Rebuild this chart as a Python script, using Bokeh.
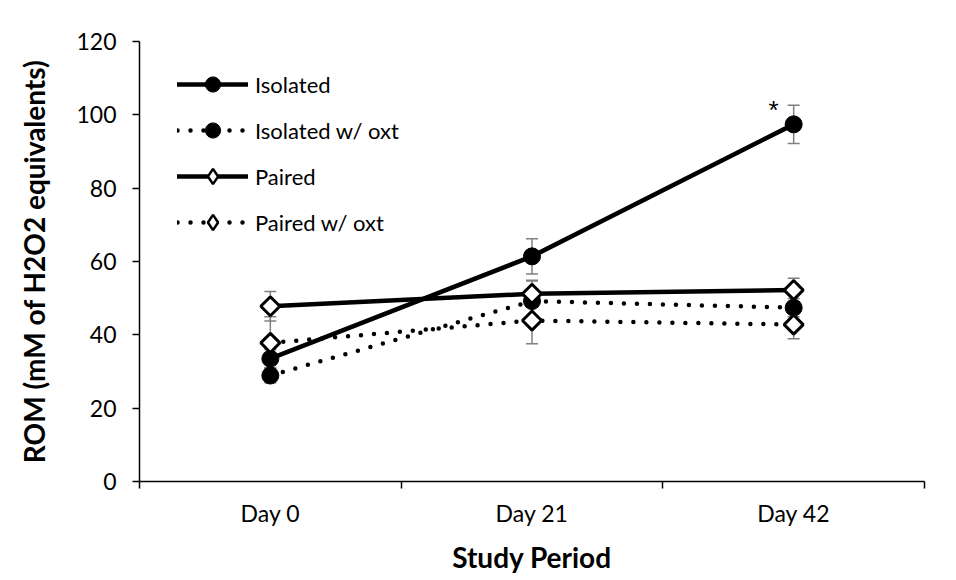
from bokeh.plotting import figure
from bokeh.models import (Range1d, FixedTicker, Whisker, ColumnDataSource, Legend,
                          LegendItem, TeeHead)
from bokeh.embed import file_html
from bokeh.resources import INLINE
from bokeh.core.properties import value
import numpy as np

# ---------------- data ----------------
categories = ["Day 0", "Day 21", "Day 42"]
isolated = [33.5, 61.4, 97.4]
isolated_err = [2.5, 4.8, 5.2]
isolated_oxt = [28.9, 49.2, 47.4]
isolated_oxt_err = [2.0, 5.7, 2.5]
paired = [47.8, 51.2, 52.2]
paired_err = [4.0, 3.5, 3.2]
paired_oxt = [37.8, 43.9, 42.8]
paired_oxt_err = [7.1, 6.3, 3.9]
y_ticks = [0, 20, 40, 60, 80, 100, 120]
series_names = ["Isolated", "Isolated w/ oxt", "Paired", "Paired w/ oxt"]
star_text = "*"

FONT = "Lato"
xs = [i + 0.5 for i in range(len(categories))]

p = figure(width=940, height=577, output_backend="svg", toolbar_location=None,
           x_range=Range1d(0, len(categories)), y_range=Range1d(y_ticks[0], y_ticks[-1]),
           min_border_left=139, min_border_right=16, min_border_top=41,
           min_border_bottom=96)
p.outline_line_color = None
p.xgrid.visible = False
p.ygrid.visible = False
p.background_fill_color = "white"
p.border_fill_color = "white"

# axes
for ax in (p.xaxis[0], p.yaxis[0]):
    ax.axis_line_color = "black"
    ax.axis_line_width = 1.5
    ax.major_tick_line_color = "black"
    ax.major_tick_line_width = 1.5
    ax.minor_tick_line_color = "black"
    ax.minor_tick_line_width = 1.5
    ax.major_label_text_font = FONT
    ax.major_label_text_font_size = "23px"
    ax.major_label_text_color = "black"
    ax.axis_label_text_font = FONT
    ax.axis_label_text_font_style = "bold"
    ax.axis_label_text_font_size = "28px"
    ax.axis_label_text_color = "black"

p.xaxis.ticker = FixedTicker(ticks=xs, minor_ticks=list(range(len(categories) + 1)))
p.xaxis.major_label_overrides = {x: c for x, c in zip(xs, categories)}
p.xaxis.major_tick_out = 0
p.xaxis.major_tick_in = 0
p.xaxis.minor_tick_out = 7
p.xaxis.minor_tick_in = 0
p.xaxis.major_label_standoff = 10
p.xaxis.axis_label = "Study Period"
p.xaxis.axis_label_standoff = 10

p.yaxis.ticker = FixedTicker(ticks=y_ticks, minor_ticks=[])
p.yaxis.major_tick_out = 7
p.yaxis.major_tick_in = 0
p.yaxis.major_label_standoff = 16
p.yaxis.axis_label = "ROM (mM of H2O2 equivalents)"
p.yaxis.axis_label_standoff = 22

# error bars
def add_err(vals, errs):
    src = ColumnDataSource(dict(x=xs, upper=[v + e for v, e in zip(vals, errs)],
                                lower=[v - e for v, e in zip(vals, errs)]))
    w = Whisker(source=src, base="x", upper="upper", lower="lower",
                line_color="#808080", line_width=1.5,
                upper_head=TeeHead(size=12, line_color="#808080", line_width=1.5),
                lower_head=TeeHead(size=12, line_color="#808080", line_width=1.5))
    p.add_layout(w)

for v, e in [(isolated, isolated_err), (isolated_oxt, isolated_oxt_err),
             (paired, paired_err), (paired_oxt, paired_oxt_err)]:
    add_err(v, e)

items = []
specs = [
    (isolated, None, "circle"),
    (isolated_oxt, "0 13", "circle"),
    (paired, None, "diamond"),
    (paired_oxt, "0 13", "diamond"),
]
for name, (vals, dash, marker) in zip(series_names, specs):
    kw = dict(line_color="black", line_width=4.5, line_cap="round")
    if dash:
        kw["line_dash"] = dash
    ln = p.line(xs, vals, **kw)
    if marker == "circle":
        sc = p.scatter(xs, vals, marker="circle", size=17, fill_color="black",
                       line_color="black", line_width=1)
        leg_r = [ln, sc]
    else:
        # diamond key for the legend (sits inside the plot markers below)
        key = p.scatter(xs, vals, marker="diamond", size=14, fill_color="white",
                        line_color="black", line_width=2.5)
        sc = p.scatter(xs, vals, marker="square", size=13.5, angle=np.pi / 4,
                       fill_color="white", line_color="black", line_width=3)
        leg_r = [ln, key]
    items.append(LegendItem(label=name, renderers=leg_r))

# significance marker
p.text(x=[xs[-1]], y=[isolated[-1] + isolated_err[-1]], text=[star_text],
       x_offset=-20, y_offset=5, text_align="center", text_baseline="middle",
       text_font=value("Liberation Sans"), text_font_size="26px", text_color="black")

legend = Legend(items=items, location=(38, 240), orientation="vertical",
                glyph_width=71, glyph_height=38, label_height=38, spacing=8,
                padding=0, margin=0, label_standoff=7,
                label_text_font=FONT, label_text_font_size="22px",
                label_text_color="black", border_line_color=None,
                background_fill_alpha=0)
p.add_layout(legend, "center")

open("out.html", "w").write(file_html(p, INLINE))
